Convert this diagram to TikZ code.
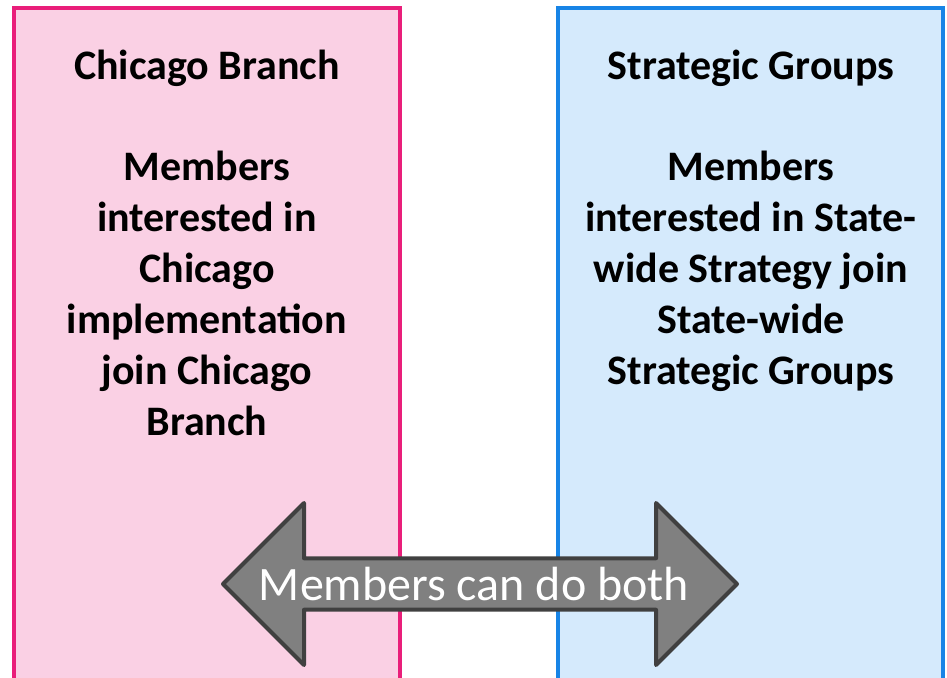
\documentclass[tikz,border=0pt]{standalone}
\usepackage{fontspec}
\setmainfont{Carlito}
\usetikzlibrary{shapes.arrows}

\definecolor{branchfill}{HTML}{FAD0E4}
\definecolor{branchline}{HTML}{E91E7A}
\definecolor{groupfill}{HTML}{D5EAFC}
\definecolor{groupline}{HTML}{1784E6}
\definecolor{arrowfill}{HTML}{808080}
\definecolor{arrowline}{HTML}{404040}

\begin{document}
\begin{tikzpicture}[x=1pt, y=-1pt,
  panel/.style = {draw, line width=4pt, outer sep=0pt, minimum height=700pt, anchor=north},
  heading/.style = {align=center, font=\bfseries\fontsize{42}{51}\selectfont, anchor=base, inner sep=0pt}]

  \useasboundingbox (0,0) rectangle (947,677);
  \clip (0,0) rectangle (947,677);

  % the two columns
  \node[panel, fill=branchfill, draw=branchline, minimum width=386pt] (BR) at (207,8) {};
  \node[panel, fill=groupfill, draw=groupline, minimum width=385pt] (SG) at (750.5,8) {};

  % base anchor sits on the last line
  \node[heading] (BR_title) at (207,79) {Chicago Branch};
  \node[heading] (BR_text) at (207,435) {Members\\interested in\\Chicago\\implementation\\join Chicago\\Branch};

  \node[heading] (SG_title) at (751,79) {Strategic Groups};
  \node[heading] (SG_text) at (751,384) {Members\\interested in State-\\wide Strategy join\\State-wide\\Strategic Groups};

  % arrow between them
  \node[double arrow, fill=arrowfill, draw=arrowline, line width=4pt, line join=round,
        minimum height=514pt, minimum width=162pt, inner sep=0pt,
        double arrow head extend=40.5pt, double arrow head indent=0pt,
        text=white, font=\fontsize{48}{56}\selectfont] (both) at (480,584) {Members can do both\hspace*{12pt}};

\end{tikzpicture}
\end{document}
